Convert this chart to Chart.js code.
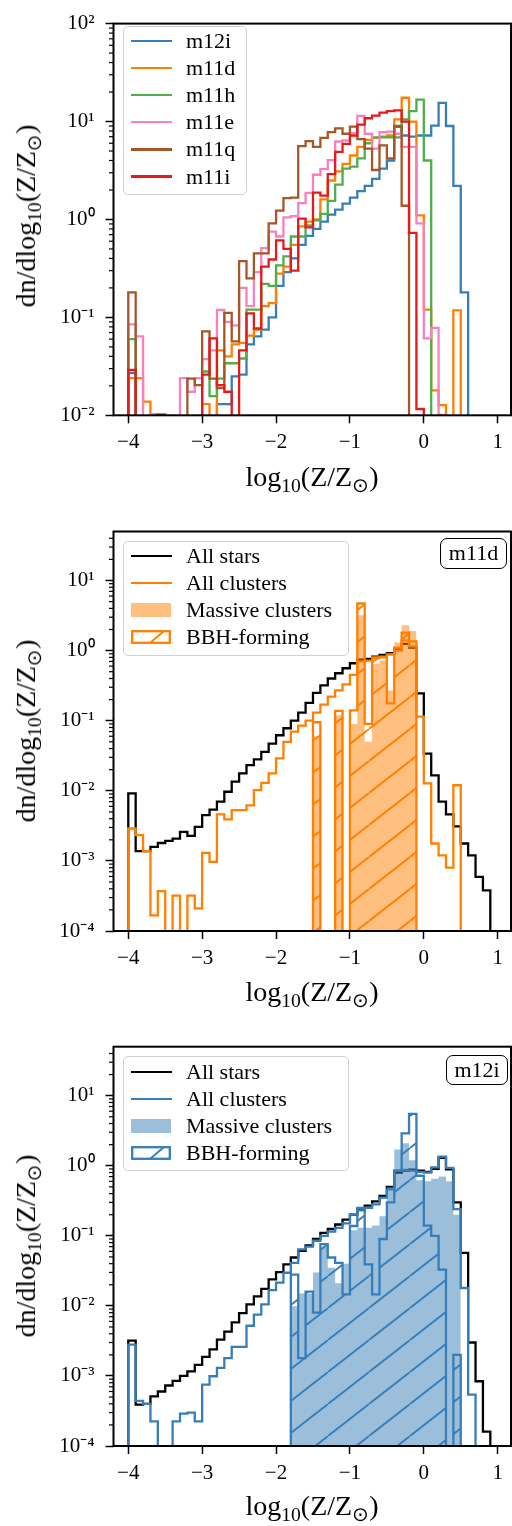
<!DOCTYPE html>
<html>
<head>
<meta charset="utf-8">
<title>Metallicity distributions</title>
<script src="https://cdn.jsdelivr.net/npm/chart.js@4.4.1/dist/chart.umd.min.js"></script>
<style>
  html, body { margin: 0; padding: 0; background: #fff; }
  #page { position: relative; width: 512px; height: 1526px; overflow: hidden;
          font-family: "Liberation Serif", serif; color: #000; }
  #page canvas { position: absolute; left: 0; }
  .axis-title { position: absolute; white-space: nowrap; font-size: 28px; line-height: 1; }
  .axis-title sub { font-size: 0.7em; vertical-align: -0.3em; line-height: 0; }
  .ytitle { transform: translate(-50%, -50%) rotate(-90deg); }
  .xtitle { transform: translate(-50%, -50%); }
  .legend { position: absolute; box-sizing: border-box; background: rgba(255,255,255,0.8);
            border: 1px solid #d0d0d0; border-radius: 5px; }
  .entry { position: absolute; font-size: 22px; line-height: 1; white-space: nowrap; transform: translateY(-50%); }
  .handle { position: absolute; }
  .tag { position: absolute; box-sizing: border-box; border: 1.4px solid #000; border-radius: 7px;
         background: #fff; font-size: 22px; line-height: 28px; text-align: center; }
</style>
</head>
<body>
<div id="page">
  <canvas id="c1" width="512" height="505" style="top:0px"></canvas>
  <canvas id="c2" width="512" height="515" style="top:505px"></canvas>
  <canvas id="c3" width="512" height="506" style="top:1020px"></canvas>

  <div class="axis-title ytitle" style="left:26px; top:216px">dn/dlog<sub>10</sub>(Z/Z<sub>&#8857;</sub>)</div>
  <div class="axis-title xtitle" style="left:312px; top:477px">log<sub>10</sub>(Z/Z<sub>&#8857;</sub>)</div>

  <div class="axis-title ytitle" style="left:26px; top:731px">dn/dlog<sub>10</sub>(Z/Z<sub>&#8857;</sub>)</div>
  <div class="axis-title xtitle" style="left:312px; top:992px">log<sub>10</sub>(Z/Z<sub>&#8857;</sub>)</div>
  <div class="tag" style="left:440px; top:538px; width:67px; height:31px">m11d</div>

  <div class="axis-title ytitle" style="left:26px; top:1246px">dn/dlog<sub>10</sub>(Z/Z<sub>&#8857;</sub>)</div>
  <div class="axis-title xtitle" style="left:312px; top:1506px">log<sub>10</sub>(Z/Z<sub>&#8857;</sub>)</div>
  <div class="tag" style="left:446px; top:1055px; width:62px; height:30px">m12i</div>
</div>

<script>
// bords des classes en log10(Z/Zsun), pas de 0.1 dex
const binEdges = [-4.0, -3.9, -3.8, -3.7, -3.6, -3.5, -3.4, -3.3, -3.2, -3.1,
                  -3.0, -2.9, -2.8, -2.7, -2.6, -2.5, -2.4, -2.3, -2.2, -2.1,
                  -2.0, -1.9, -1.8, -1.7, -1.6, -1.5, -1.4, -1.3, -1.2, -1.1,
                  -1.0, -0.9, -0.8, -0.7, -0.6, -0.5, -0.4, -0.3, -0.2, -0.1,
                   0.0,  0.1,  0.2,  0.3,  0.4,  0.5,  0.6,  0.7,  0.8,  0.9, 1.0];
const xTicks = [-4, -3, -2, -1, 0, 1];
const yTicksTop = [0.01, 0.1, 1, 10, 100];
const yTicksLow = [1e-4, 1e-3, 1e-2, 1e-1, 1, 10];

// panneau du haut : une courbe par galaxie (valeur de chaque classe, depuis -4.0)
const galaxyNames = ['m12i', 'm11d', 'm11h', 'm11e', 'm11q', 'm11i'];
const m12i = [0.027, 0, 0, 0, 0, 0, 0, 0, 0, 0,
              0, 0, 0.013, 0.013, 0.025, 0.026, 0.053, 0.064, 0.075, 0.10,
              0.21, 0.29, 0.40, 0.55, 0.68, 0.80, 0.95, 1.12, 1.26, 1.45,
              1.67, 1.95, 2.2, 2.6, 3.3, 4.0, 8.8, 7.2, 7.0, 7.2,
              7.2, 9.1, 15.5, 9.0, 2.2, 0.18];
const m11d = [0.024, 0.024, 0.0138, 0.0102, 0, 0, 0, 0, 0, 0,
              0.013, 0, 0.046, 0.04, 0.053, 0.055, 0.065, 0.075, 0.13, 0.14,
              0.28, 0.33, 0.55, 0.85, 0.95, 1.0, 1.6, 2.5, 3.1, 3.7,
              4.5, 5.5, 6.5, 6.8, 7.0, 7.2, 10.5, 17.5, 10.0, 1.1,
              0.12, 0.018, 0.0127, 0, 0.118];
const m11h = [0.06, 0, 0, 0, 0, 0, 0, 0, 0, 0,
              0.028, 0.0157, 0.0237, 0.034, 0.034, 0.038, 0.12, 0.12, 0.22, 0.21,
              0.34, 0.42, 0.67, 0.67, 0.87, 0.98, 1.14, 1.55, 2.27, 3.3,
              3.46, 4.2, 6.0, 6.9, 6.9, 6.9, 6.9, 10.5, 12.8, 16.7,
              4.0];
const m11e = [0.085, 0.064, 0, 0.0102, 0, 0, 0, 0.024, 0.0174, 0.024,
              0.0375, 0.046, 0.119, 0.09, 0.083, 0.2, 0.13, 0.29, 0.51, 0.75,
              0.67, 1.05, 1.08, 1.47, 1.87, 2.86, 3.26, 4.04, 6.25, 6.4,
              7.6, 11.4, 7.5, 5.3, 7.8, 7.9, 7.5, 5.5, 5.5, 0.91,
              0.061, 0.078, 0.0101];
const m11q = [0.18, 0, 0, 0, 0.0102, 0, 0, 0, 0.0237, 0.0203,
              0.072, 0.0237, 0.019, 0.111, 0.057, 0.375, 0.25, 0.45, 0.45, 0.91,
              1.23, 1.65, 1.67, 5.6, 6.3, 5.5, 6.8, 7.8, 8.5, 7.5,
              8.85, 6.6, 5.3, 3.2, 5.7, 4.2, 9.0, 1.38];
const m11i = [0.029, 0, 0, 0, 0, 0, 0, 0, 0, 0,
              0.026, 0.061, 0.0203, 0.0174, 0, 0.046, 0.11, 0.077, 0.33, 0.39,
              0.61, 0.5, 0.3, 1.02, 0.83, 1.88, 1.75, 2.9, 4.9, 5.9,
              7.2, 9.3, 10.8, 11.5, 12.3, 12.8, 13.0, 10.0, 0.73, 0.0116];

// panneaux du bas : étoiles, amas, amas massifs, amas formant des BBH
const groupNames = ['All stars', 'All clusters', 'Massive clusters', 'BBH-forming'];
const m11dStars = [0.0092, 0.00138, 0.00138, 0.00158, 0.0018, 0.00193, 0.00208, 0.0026, 0.00228, 0.00306,
                   0.0045, 0.0054, 0.007, 0.0097, 0.0135, 0.0177, 0.0233, 0.028, 0.036, 0.047,
                   0.062, 0.078, 0.1, 0.13, 0.18, 0.25, 0.32, 0.40, 0.475, 0.56,
                   0.66, 0.74, 0.76, 0.82, 0.87, 0.92, 1.05, 1.25, 1.1, 0.245,
                   0.034, 0.0166, 0.007, 0.0046, 0.0031, 0.00177, 0.0012, 0.00059, 0.00038];
const m11dClusters = [0.0029, 0.00233, 0.00138, 0.000167, 0.00037, 0, 0.00032, 0, 0.00032, 0.00021,
                      0.0013, 0.00097, 0.0046, 0.0039, 0.0053, 0.0053, 0.0062, 0.0102, 0.013, 0.0177,
                      0.029, 0.05, 0.07, 0.085, 0.1, 0.13, 0.17, 0.22, 0.27, 0.33,
                      0.45, 0.7, 0.72, 0.78, 0.82, 0.88, 1.0, 1.4, 1.15, 0.114,
                      0.0128, 0.00177, 0.0012, 0.0008, 0.012];
const m11dMassive = [0, 0, 0, 0, 0, 0, 0, 0, 0, 0,
                     0, 0, 0, 0, 0, 0, 0, 0, 0, 0,
                     0, 0, 0, 0, 0, 0.06, 0, 0, 0.12, 0,
                     0.09, 3.2, 0.05, 0.65, 0.72, 0.27, 1.3, 2.3, 1.9];
const m11dBBH = [0, 0, 0, 0, 0, 0, 0, 0, 0, 0,
                 0, 0, 0, 0, 0, 0, 0, 0, 0, 0,
                 0, 0, 0, 0, 0, 0.095, 0, 0, 0.138, 0,
                 0.14, 4.7, 0.09, 0.8, 0.8, 0.177, 1.1, 1.8, 1.35];

const m12iStars = [0.0032, 0.00039, 0.0004, 0.00051, 0.0006, 0.00073, 0.00085, 0.001, 0.00116, 0.00144,
                   0.00187, 0.0024, 0.0033, 0.0043, 0.0058, 0.0079, 0.0105, 0.0137, 0.0175, 0.0239,
                   0.0304, 0.039, 0.049, 0.061, 0.073, 0.09, 0.11, 0.125, 0.145, 0.17,
                   0.2, 0.24, 0.27, 0.31, 0.37, 0.5, 0.8, 0.85, 0.88, 0.85,
                   0.82, 0.9, 1.3, 0.89, 0.3, 0.057, 0.003, 0.00084, 0.00016];
const m12iClusters = [0.0028, 0.00044, 0.0004, 0.000225, 0, 0, 0.000225, 0.00029, 0.0003, 0.000225,
                      0.00075, 0.00099, 0.0013, 0.0018, 0.0026, 0.0026, 0.0052, 0.0075, 0.0105, 0.0168,
                      0.0214, 0.0297, 0.041, 0.064, 0.07, 0.085, 0.1, 0.115, 0.13, 0.15,
                      0.2, 0.23, 0.25, 0.28, 0.35, 0.46, 0.85, 0.87, 0.85, 0.82,
                      0.8, 0.95, 1.35, 0.93, 0.24, 0.018, 0.00054];
const m12iMassive = [0, 0, 0, 0, 0, 0, 0, 0, 0, 0,
                     0, 0, 0, 0, 0, 0, 0, 0, 0, 0,
                     0, 0, 0.0099, 0.015, 0.015, 0.03, 0.07, 0.035, 0.021, 0.04,
                     0.12, 0.13, 0.13, 0.14, 0.19, 0.5, 1.7, 2.1, 1.2, 0.62,
                     0.6, 0.65, 0.7, 0.6, 0.2];
const m12iBBH = [0, 0, 0, 0, 0, 0, 0, 0, 0, 0,
                 0, 0, 0, 0, 0, 0, 0, 0, 0, 0,
                 0, 0, 0.028, 0.0018, 0.016, 0.008, 0.076, 0.049, 0.041, 0.0146,
                 0.138, 0.25, 0.039, 0.0146, 0.09, 0.3, 0.85, 2.9, 5.5, 0.72,
                 0.14, 0.1, 0.033, 0, 0.002];

const colors = {
    blue: '#377eb8', orange: '#ff7f00', green: '#4daf4a',
    pink: '#f781bf', brown: '#a65628', red: '#e41a1c'
};
const tickFont = { family: "'Liberation Serif', serif", size: 21 };
const EMPTY = 1e-9;   // classe vide : tombe sous l'axe log

// Transforme une liste de classes en points d'histogramme "step"
function stepPoints(vals) {
    const pts = [{ x: binEdges[0], y: EMPTY }];
    vals.forEach(function(v, k) {
        pts.push({ x: binEdges[k], y: v > 0 ? v : EMPTY });
    });
    pts.push({ x: binEdges[vals.length], y: EMPTY });
    return pts;
}

// Motif de hachures '/'
function makeHatch(color) {
    const w = 41, h = 32;
    const c = document.createElement('canvas');
    c.width = w; c.height = h;
    const g = c.getContext('2d');
    g.strokeStyle = color;
    g.lineWidth = 1.9;
    [-w, 0, w].forEach(function(dx) {
        g.beginPath();
        g.moveTo(dx, h);
        g.lineTo(dx + w, 0);
        g.stroke();
    });
    return g.createPattern(c, 'repeat');
}

function stepLine(label, vals, color, order) {
    return {
        label: label, data: stepPoints(vals), order: order,
        borderColor: color, borderWidth: 2.3, stepped: 'before',
        borderJoinStyle: 'miter', borderCapStyle: 'butt',
        pointRadius: 0, fill: false
    };
}

const SUP = { '-': '\u207B', '0': '\u2070', '1': '\u00B9', '2': '\u00B2', '3': '\u00B3', '4': '\u2074' };
function powLabel(v) {
    const e = Math.round(Math.log10(v));
    return '10' + String(e).split('').map(function(ch) { return SUP[ch]; }).join('');
}
function numLabel(v) {
    return v < 0 ? '\u2212' + Math.abs(v) : String(v);
}

// Cadre complet + petites graduations de l'axe log
const framePlugin = {
    id: 'frame',
    afterDraw(chart) {
        const ctx = chart.ctx;
        const a = chart.chartArea;
        const y = chart.scales.y;
        ctx.save();
        ctx.strokeStyle = '#000';
        ctx.lineWidth = 1.2;
        const lo = Math.floor(Math.log10(y.min));
        const hi = Math.ceil(Math.log10(y.max));
        for (let e = lo; e < hi; e++) {
            for (let m = 2; m <= 9; m++) {
                const v = m * Math.pow(10, e);
                if (v <= y.min || v >= y.max) continue;
                const py = y.getPixelForValue(v);
                ctx.beginPath();
                ctx.moveTo(a.left, py);
                ctx.lineTo(a.left - 4.5, py);
                ctx.stroke();
            }
        }
        ctx.lineWidth = 2;
        ctx.strokeRect(a.left, a.top, a.right - a.left, a.bottom - a.top);
        ctx.restore();
    }
};

function buildChart(id, area, yMin, yMax, yTicks, datasets) {
    const canvas = document.getElementById(id);
    const h = canvas.height;
    return new Chart(canvas, {
        type: 'line',
        data: { datasets: datasets },
        options: {
            responsive: false,
            animation: false,
            events: [],
            layout: { padding: { top: area.top, right: 1, left: 0, bottom: 0 } },
            plugins: { legend: { display: false }, tooltip: { enabled: false } },
            scales: {
                x: {
                    type: 'linear', min: -4.2, max: 1.18,
                    afterFit: function(s) { s.height = h - area.bottom; },
                    afterBuildTicks: function(s) { s.ticks = xTicks.map(function(v) { return { value: v }; }); },
                    ticks: { callback: numLabel, font: tickFont, color: '#000', padding: 7, maxRotation: 0, autoSkip: false },
                    grid: { drawOnChartArea: false, tickLength: 8, tickWidth: 1.5, tickColor: '#000' },
                    border: { display: false }
                },
                y: {
                    type: 'logarithmic', min: yMin, max: yMax,
                    afterFit: function(s) { s.width = 113.5; },
                    afterBuildTicks: function(s) { s.ticks = yTicks.map(function(v) { return { value: v, major: true }; }); },
                    ticks: { callback: powLabel, font: tickFont, color: '#000', padding: 11, autoSkip: false },
                    grid: { drawOnChartArea: false, tickLength: 8, tickWidth: 1.5, tickColor: '#000' },
                    border: { display: false }
                }
            }
        },
        plugins: [framePlugin]
    });
}

function groupDatasets(stars, clusters, massive, bbh, color, fillColor) {
    return [
        stepLine(groupNames[0], stars, '#000', 4),
        stepLine(groupNames[1], clusters, color, 3),
        {
            label: groupNames[2], data: stepPoints(massive), order: 2,
            stepped: 'before', pointRadius: 0, borderWidth: 0,
            borderColor: 'rgba(0,0,0,0)', backgroundColor: fillColor, fill: 'start'
        },
        {
            label: groupNames[3], data: stepPoints(bbh), order: 1,
            stepped: 'before', pointRadius: 0, borderWidth: 2.3,
            borderJoinStyle: 'miter', borderCapStyle: 'butt',
            borderColor: color, backgroundColor: makeHatch(color), fill: 'start'
        }
    ];
}

// Légendes en HTML (style matplotlib)
function addLegend(box, entries) {
    const page = document.getElementById('page');
    const frame = document.createElement('div');
    frame.className = 'legend';
    frame.style.left = box.x + 'px';
    frame.style.top = box.y + 'px';
    frame.style.width = box.w + 'px';
    frame.style.height = box.h + 'px';
    page.appendChild(frame);

    entries.forEach(function(e, i) {
        const cy = box.firstY + i * box.step;
        const hd = document.createElement('div');
        hd.className = 'handle';
        hd.style.left = '130.5px';
        if (e.kind === 'line') {
            hd.style.top = (cy - 1.2) + 'px';
            hd.style.width = '41px';
            hd.style.height = '2.4px';
            hd.style.background = e.color;
        } else if (e.kind === 'fill') {
            hd.style.top = (cy - 7) + 'px';
            hd.style.width = '40px';
            hd.style.height = '14px';
            hd.style.background = e.color;
        } else {
            hd.style.top = (cy - 7) + 'px';
            hd.innerHTML = '<svg width="40" height="14" xmlns="http://www.w3.org/2000/svg">' +
                '<rect x="1.2" y="1.2" width="37.6" height="11.6" fill="#fff" stroke="' + e.color + '" stroke-width="2.3"/>' +
                '<line x1="19" y1="13" x2="33" y2="1" stroke="' + e.color + '" stroke-width="1.9"/></svg>';
        }
        page.appendChild(hd);

        const tx = document.createElement('div');
        tx.className = 'entry';
        tx.style.left = '186px';
        tx.style.top = cy + 'px';
        tx.textContent = e.label;
        page.appendChild(tx);
    });
}

document.addEventListener('DOMContentLoaded', function() {
    // Panneau 1 : toutes les galaxies
    const series = [m12i, m11d, m11h, m11e, m11q, m11i];
    const serieColors = [colors.blue, colors.orange, colors.green, colors.pink, colors.brown, colors.red];
    const topSets = series.map(function(vals, i) {
        return stepLine(galaxyNames[i], vals, serieColors[i], series.length - i);
    });
    buildChart('c1', { top: 15.7, bottom: 415.3 }, 0.01, 100, yTicksTop, topSets);

    // Panneau 2 : m11d
    buildChart('c2', { top: 26.5, bottom: 426 }, 1e-4, 50, yTicksLow,
        groupDatasets(m11dStars, m11dClusters, m11dMassive, m11dBBH, colors.orange, 'rgba(255,127,0,0.5)'));

    // Panneau 3 : m12i
    buildChart('c3', { top: 26.7, bottom: 426 }, 1e-4, 50, yTicksLow,
        groupDatasets(m12iStars, m12iClusters, m12iMassive, m12iBBH, colors.blue, 'rgba(55,126,184,0.5)'));

    addLegend({ x: 123.3, y: 26, w: 123.4, h: 169, firstY: 41, step: 27.1 },
        galaxyNames.map(function(n, i) { return { label: n, kind: 'line', color: serieColors[i] }; }));

    const kinds = ['line', 'line', 'fill', 'hatch'];
    addLegend({ x: 122.7, y: 541, w: 226.6, h: 115, firstY: 556, step: 27 },
        groupNames.map(function(n, i) {
            const c = i === 0 ? '#000' : (i === 2 ? 'rgba(255,127,0,0.5)' : colors.orange);
            return { label: n, kind: kinds[i], color: c };
        }));
    addLegend({ x: 122.7, y: 1056, w: 226.6, h: 115, firstY: 1071.7, step: 27 },
        groupNames.map(function(n, i) {
            const c = i === 0 ? '#000' : (i === 2 ? 'rgba(55,126,184,0.5)' : colors.blue);
            return { label: n, kind: kinds[i], color: c };
        }));
});
</script>
</body>
</html>
